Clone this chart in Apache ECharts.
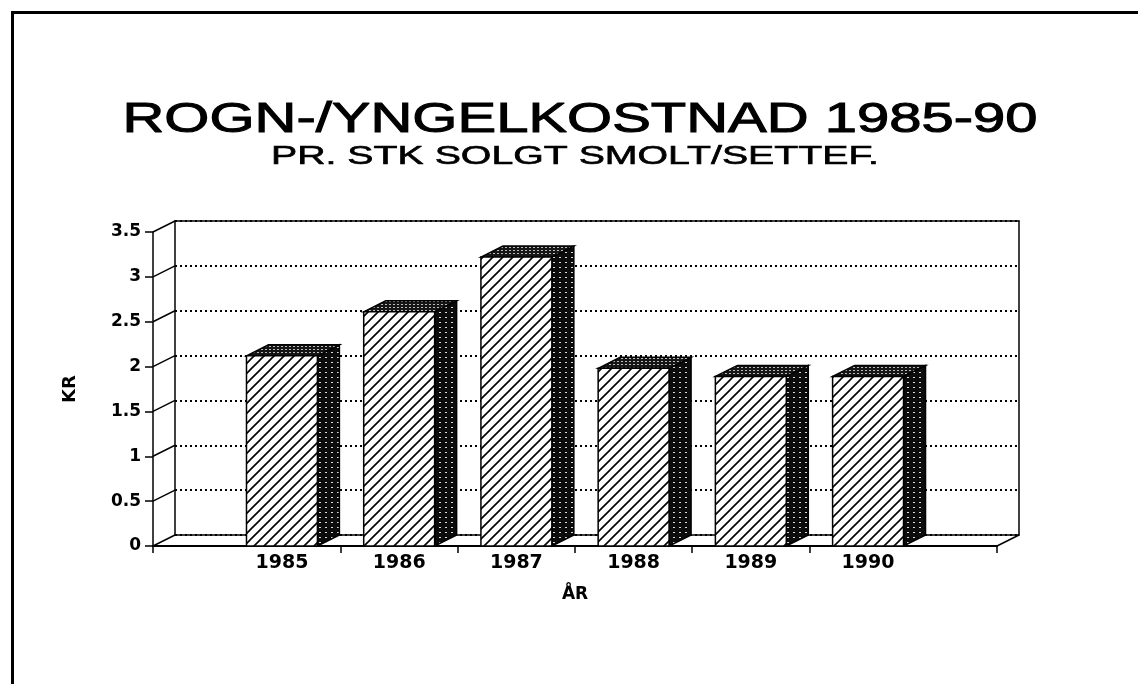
<!DOCTYPE html>
<html>
<head>
<meta charset="utf-8">
<script src="https://cdn.jsdelivr.net/npm/echarts@6/dist/echarts.min.js"></script>
<style>
  html, body { margin: 0; padding: 0; background: #fff; }
  #chart { width: 1138px; height: 684px; }
</style>
</head>
<body>
<div id="chart"></div>
<script>
// data
var years = ['1985', '1986', '1987', '1988', '1989', '1990'];
var costKr = [2.12, 2.61, 3.22, 1.98, 1.89, 1.89];
var yTicks = [0, 0.5, 1, 1.5, 2, 2.5, 3, 3.5];

var X_MIN = -1.1, X_MAX = 6.1;
var FACE = 0.605;          // bar front width in axis units
var DX = 22, DY = -11;     // 3d depth offset (px)
var LBL = '"DejaVu Sans"';

// fill patterns
function makePattern(w, h, draw) {
	var c = document.createElement('canvas');
	c.width = w; c.height = h;
	draw(c.getContext('2d'));
	return { image: c, repeat: 'repeat' };
}
var hatch = makePattern(10, 10, function (g) {
	g.fillStyle = '#fff'; g.fillRect(0, 0, 10, 10);
	g.strokeStyle = '#000'; g.lineWidth = 1.6;
	g.beginPath();
	g.moveTo(-2, 12); g.lineTo(12, -2);
	g.moveTo(-7, 7); g.lineTo(7, -7);
	g.moveTo(3, 17); g.lineTo(17, 3);
	g.stroke();
});
var sideFill = makePattern(6, 5, function (g) {
	g.fillStyle = '#0c0c0c'; g.fillRect(0, 0, 6, 5);
	g.fillStyle = '#ddd'; g.fillRect(1, 2, 2, 1);
});
var topFill = makePattern(4, 3, function (g) {
	g.fillStyle = '#151515'; g.fillRect(0, 0, 4, 3);
	g.fillStyle = '#bbb'; g.fillRect(1, 1, 2, 1);
});

// scale factor so that a text line fills the given width
function fitScale(text, font, width) {
	var g = document.createElement('canvas').getContext('2d');
	g.font = font;
	return width / g.measureText(text).width;
}

var titleText = 'ROGN-/YNGELKOSTNAD 1985-90';
var subText = 'PR. STK SOLGT SMOLT/SETTEF.';
var titleFont = '42px "Liberation Sans"';
var subFont = '25px "Liberation Sans"';

var chart = echarts.init(document.getElementById('chart'));

var boundaries = years.slice(1).map(function (y, i) { return i + 0.5; });

chart.setOption({
	animation: false,
	backgroundColor: '#fff',
	grid: [
		{ left: 153, right: 141, top: 232, bottom: 138 },
		{ left: 175, right: 119, top: 221, bottom: 149 }
	],
	xAxis: [
		{
			gridIndex: 0, type: 'value', min: X_MIN, max: X_MAX,
			axisLine: { show: true, onZero: false, lineStyle: { color: '#000', width: 2 } },
			axisTick: { show: true, length: 7, customValues: [X_MIN].concat(boundaries).concat([X_MAX]), lineStyle: { color: '#000', width: 1.5 } },
			axisLabel: {
				customValues: years.map(function (y, i) { return i; }),
				formatter: function (v) { return years[Math.round(v)]; },
				color: '#000', fontFamily: LBL, fontWeight: 'bold', fontSize: 19, margin: 8
			},
			splitLine: { show: false },
			name: 'ÅR', nameLocation: 'middle', nameGap: 40,
			nameTextStyle: { color: '#000', fontFamily: LBL, fontWeight: 'bold', fontSize: 17 }
		},
		{
			gridIndex: 1, type: 'value', min: X_MIN, max: X_MAX,
			axisLine: { show: true, onZero: false, lineStyle: { color: '#000', width: 1.5 } },
			axisTick: { show: false }, axisLabel: { show: false }, splitLine: { show: false }
		},
		{
			gridIndex: 1, type: 'value', min: X_MIN, max: X_MAX, position: 'top',
			axisLine: { show: true, onZero: false, lineStyle: { color: '#000', width: 1.5 } },
			axisTick: { show: false }, axisLabel: { show: false }, splitLine: { show: false }
		}
	],
	yAxis: [
		{
			gridIndex: 0, type: 'value', min: 0, max: 3.5, interval: 0.5,
			axisLine: { show: true, onZero: false, lineStyle: { color: '#000', width: 1.5 } },
			axisTick: { show: true, length: 8, lineStyle: { color: '#000', width: 1.5 } },
			axisLabel: { color: '#000', fontFamily: LBL, fontWeight: 'bold', fontSize: 17, margin: 12 },
			splitLine: { show: false },
			name: 'KR', nameLocation: 'middle', nameGap: 74,
			nameTextStyle: { color: '#000', fontFamily: LBL, fontWeight: 'bold', fontSize: 18 }
		},
		{
			gridIndex: 1, type: 'value', min: 0, max: 3.5, interval: 0.5,
			axisLine: { show: true, onZero: false, lineStyle: { color: '#000', width: 1.5 } },
			axisTick: { show: false }, axisLabel: { show: false },
			splitLine: { show: true, lineStyle: { color: '#000', width: 2, type: [2, 3] } }
		},
		{
			gridIndex: 1, type: 'value', min: 0, max: 3.5, position: 'right',
			axisLine: { show: true, onZero: false, lineStyle: { color: '#000', width: 1.5 } },
			axisTick: { show: false }, axisLabel: { show: false }, splitLine: { show: false }
		}
	],
	graphic: [
		{ type: 'line', shape: { x1: 12.5, y1: 11, x2: 12.5, y2: 684 }, style: { stroke: '#000', lineWidth: 3 } },
		{ type: 'line', shape: { x1: 11, y1: 12.5, x2: 1138, y2: 12.5 }, style: { stroke: '#000', lineWidth: 3 } },
		{
			type: 'text', x: 580, y: 120, scaleX: fitScale(titleText, titleFont, 915), scaleY: 1,
			style: { text: titleText, font: titleFont, fill: '#000', stroke: '#000', lineWidth: 1, textAlign: 'center', textVerticalAlign: 'middle', align: 'center', verticalAlign: 'middle' }
		},
		{
			type: 'text', x: 575, y: 157, scaleX: fitScale(subText, subFont, 608), scaleY: 1,
			style: { text: subText, font: subFont, fill: '#000', stroke: '#000', lineWidth: 0.6, textAlign: 'center', textVerticalAlign: 'middle', align: 'center', verticalAlign: 'middle' }
		}
	],
	series: [
		{
			// side wall: slanted lines from front axis to back wall, plus right floor edge
			type: 'custom', xAxisIndex: 0, yAxisIndex: 0, clip: false, silent: true,
			data: yTicks.map(function (v) { return [X_MIN, v]; }).concat([[X_MAX, 0]]),
			renderItem: function (params, api) {
				var p = api.coord([api.value(0), api.value(1)]);
				return {
					type: 'line',
					shape: { x1: p[0], y1: p[1], x2: p[0] + DX, y2: p[1] + DY },
					style: { stroke: '#000', lineWidth: 1.5 }
				};
			}
		},
		{
			type: 'custom', xAxisIndex: 0, yAxisIndex: 0, clip: false,
			data: costKr.map(function (v, i) { return [i, v]; }),
			renderItem: function (params, api) {
				var i = api.value(0), v = api.value(1);
				var a = api.coord([i - FACE / 2, 0]);
				var b = api.coord([i + FACE / 2, v]);
				var l = a[0], r = b[0], bot = a[1], t = b[1];
				return {
					type: 'group',
					children: [
						{
							type: 'polygon',
							shape: { points: [[r, t], [r + DX, t + DY], [r + DX, bot + DY], [r, bot]] },
							style: { fill: sideFill, stroke: '#000', lineWidth: 1.5 }
						},
						{
							type: 'polygon',
							shape: { points: [[l, t], [l + DX, t + DY], [r + DX, t + DY], [r, t]] },
							style: { fill: topFill, stroke: '#000', lineWidth: 1.5 }
						},
						{
							type: 'rect',
							shape: { x: l, y: t, width: r - l, height: bot - t },
							style: { fill: hatch, stroke: '#000', lineWidth: 1.5 }
						}
					]
				};
			}
		}
	]
});
</script>
</body>
</html>
